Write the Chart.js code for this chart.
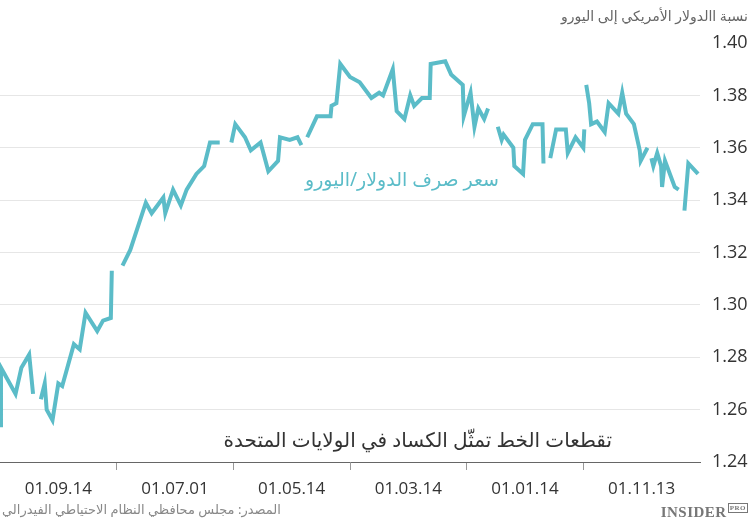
<!DOCTYPE html>
<html>
<head>
<meta charset="utf-8">
<script src="https://cdn.jsdelivr.net/npm/chart.js@4"></script>
<style>
  body { margin: 0; background: #fff; font-family: "Noto Sans", "DejaVu Sans", sans-serif; }
  #wrap { position: relative; width: 750px; height: 522px; }
  .txt { position: absolute; white-space: nowrap; direction: rtl; }
</style>
</head>
<body>
<div id="wrap">
  <canvas id="chart" width="750" height="522"></canvas>
  <div class="txt" style="right:2px; top:6px; font-size:14px; color:#666;">نسبة االدولار الأمريكي إلى اليورو</div>
  <div class="txt" style="left:305px; top:166px; font-size:19px; color:#5bbcc8;">سعر صرف الدولار/اليورو</div>
  <div class="txt" style="right:138px; top:426px; font-size:20px; color:#333;">تقطعات الخط تمثّل الكساد في الولايات المتحدة</div>
  <div class="txt" style="left:2px; top:500px; font-size:13px; color:#888;">المصدر: مجلس محافظي النظام الاحتياطي الفيدرالي</div>
  <div style="position:absolute; right:2px; top:504px; font-family:'Liberation Serif',serif; font-weight:bold; font-size:15px; color:#777; letter-spacing:0.5px;">INSIDER<span style="font-size:7px; vertical-align:top; border:1px solid #777; padding:0 1px; margin-left:1px;">PRO</span></div>
</div>
<script>
// Achse: Tage von links (neuestes Datum) nach rechts (ältestes), null = Lücke
const dayPos = [0, 0.5, 8, 11, 15, 17, 18, 21, 23, 24, 27, 30, 32, 38, 41, 44, 50, 53, 57, 57.5, 60,
  63, 67, 75, 78, 84, 85, 89, 93, 96, 101, 105, 108, 113, 116,
  119, 121, 126, 129, 134, 138, 143, 144, 149, 153, 155, 156,
  158, 163, 170, 170.5, 173, 175, 180, 185, 191, 195, 197, 202, 204, 208, 211, 213, 217, 221, 221.5,
  229, 232, 238, 238.5, 242, 244, 246, 249, 251, 253,
  256, 258, 259, 264, 264.5, 269, 270, 274, 279, 279.5, 280.5,
  283, 286, 291, 292, 296, 300, 300.5, 301,
  301.5, 303, 304, 307, 311, 313, 318, 320, 322, 326, 329, 329.5, 333, 334,
  335, 336, 338, 340, 340.5, 342, 347, 349, 350,
  352, 354, 359]
const rate = [1.254, 1.276, 1.266, 1.276, 1.281, 1.266, null, 1.264, 1.270, 1.260, 1.256, 1.270, 1.269, 1.285, 1.283, 1.297, 1.290, 1.294, 1.295, 1.313, null,
  1.315, 1.321, 1.339, 1.335, 1.341, 1.335, 1.344, 1.338, 1.344, 1.350, 1.353, 1.362, 1.362, null,
  1.362, 1.369, 1.364, 1.359, 1.362, 1.351, 1.355, 1.364, 1.363, 1.364, 1.361, null,
  1.364, 1.372, 1.372, 1.376, 1.377, 1.392, 1.387, 1.385, 1.379, 1.381, 1.380, 1.390, 1.374, 1.371, 1.380, 1.376, 1.379, 1.379, 1.392,
  1.393, 1.388, 1.384, 1.372, 1.381, 1.368, 1.375, 1.371, 1.375, null,
  1.368, 1.363, 1.365, 1.360, 1.353, 1.350, 1.363, 1.369, 1.369, 1.354, null,
  1.356, 1.367, 1.367, 1.358, 1.364, 1.360, 1.367, null,
  1.384, 1.377, 1.369, 1.370, 1.366, 1.377, 1.373, 1.381, 1.373, 1.369, 1.359, 1.355, 1.360, null,
  1.356, 1.353, 1.358, 1.353, 1.345, 1.355, 1.345, 1.344, null,
  1.336, 1.354, 1.350]
const dateLabels = ['01.09.14', '01.07.01', '01.05.14', '01.03.14', '01.01.14', '01.11.13']
const yTicks = [1.24, 1.26, 1.28, 1.30, 1.32, 1.34, 1.36, 1.38, 1.40]

const points = dayPos.map((d, i) => ({ x: d, y: rate[i] }))

new Chart(document.getElementById('chart'), {
  type: 'line',
  data: {
    datasets: [{
      data: points,
      borderColor: '#5bbcc8',
      borderWidth: 4,
      pointRadius: 0,
      spanGaps: false,
      tension: 0
    }]
  },
  options: {
    responsive: false,
    animation: false,
    layout: { padding: { top: 43, left: 0, right: 0, bottom: 0 } },
    plugins: { legend: { display: false }, tooltip: { enabled: false } },
    scales: {
      x: {
        type: 'linear',
        min: 0,
        max: 360,
        afterBuildTicks: axis => {
          axis.ticks = []
          for (let v = 30; v < 360; v += 30) axis.ticks.push({ value: v })
        },
        afterFit: axis => { axis.height = 60 },
        ticks: {
          autoSkip: false,
          maxRotation: 0,
          padding: 9,
          color: '#333',
          font: { size: 17, family: 'Open Sans' },
          callback: v => (v / 30) % 2 === 1 ? dateLabels[(v - 30) / 60] : ''
        },
        grid: {
          drawOnChartArea: false,
          tickLength: 8,
          color: ctx => (ctx.tick && (ctx.tick.value / 30) % 2 === 0) ? '#999' : 'rgba(0,0,0,0)'
        },
        border: { color: '#666', width: 1 }
      },
      y: {
        position: 'right',
        min: 1.24,
        max: 1.40,
        afterBuildTicks: axis => { axis.ticks = yTicks.map(v => ({ value: v })) },
        afterFit: axis => { axis.width = 50 },
        ticks: {
          color: '#333',
          padding: 12,
          font: { size: 18, family: 'Open Sans' },
          callback: v => v.toFixed(2)
        },
        grid: {
          drawTicks: false,
          color: ctx => (ctx.tick && (ctx.tick.value > 1.395 || ctx.tick.value < 1.245)) ? 'rgba(0,0,0,0)' : '#e6e6e6'
        },
        border: { display: false }
      }
    }
  }
})
</script>
</body>
</html>
